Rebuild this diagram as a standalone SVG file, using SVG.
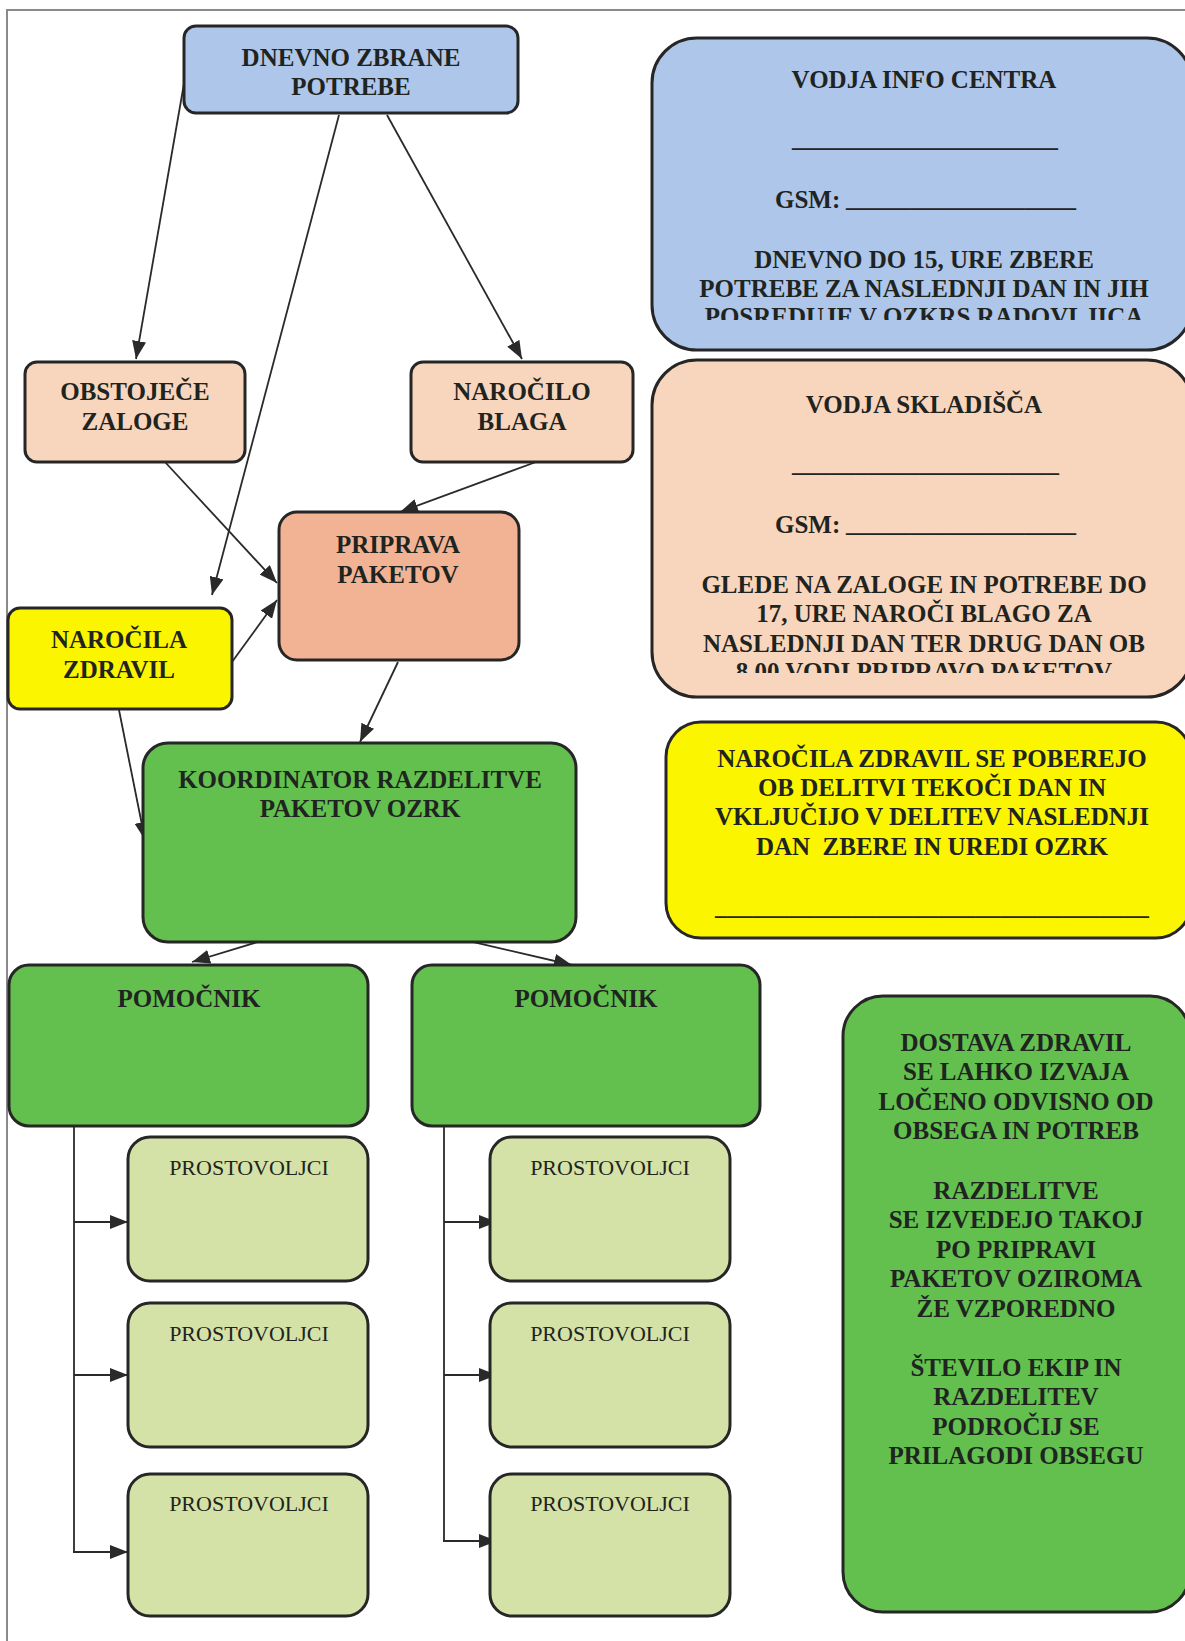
<svg xmlns="http://www.w3.org/2000/svg" width="1185" height="1641" viewBox="0 0 1185 1641">
<style>
text{font-family:"Liberation Serif","Times New Roman",serif;fill:#1f2420;}
.b{font-weight:bold;font-size:25px;text-anchor:middle;}
.r{font-size:22px;text-anchor:middle;}
.s{font-weight:bold;font-size:25px;}
.box{stroke:#262626;stroke-width:3;}
.blue{fill:#aec6ea;}
.peach{fill:#f8d6bd;}
.salmon{fill:#f2b395;}
.yellow{fill:#fbf600;}
.green{fill:#63c04f;}
.lgreen{fill:#d4e2a8;}
.c{stroke:#2a2a2a;stroke-width:1.8;fill:none;}
</style>
<defs>
<marker id="ah" markerUnits="userSpaceOnUse" markerWidth="18" markerHeight="14" refX="18" refY="7" orient="auto">
<path d="M0,0 L18,7 L0,14 z" fill="#2a2a2a"/>
</marker>
<clipPath id="clipInfo"><rect x="640" y="0" width="560" height="320"/></clipPath>
<clipPath id="clipSkl"><rect x="640" y="350" width="560" height="323"/></clipPath>
</defs>
<rect x="0" y="0" width="1185" height="1641" fill="#ffffff"/>
<g id="frame">
<line x1="6" y1="10" x2="1185" y2="10" stroke="#8a8a8a" stroke-width="2"/>
<line x1="7" y1="10" x2="7" y2="1641" stroke="#8a8a8a" stroke-width="2"/>
</g>
<g id="connectors">
<line class="c" x1="186" y1="72" x2="136" y2="359" marker-end="url(#ah)"/>
<line class="c" x1="339" y1="115" x2="212" y2="595" marker-end="url(#ah)"/>
<line class="c" x1="387" y1="115" x2="522" y2="359" marker-end="url(#ah)"/>
<line class="c" x1="165" y1="462" x2="277" y2="583" marker-end="url(#ah)"/>
<line class="c" x1="536" y1="462" x2="400" y2="512" marker-end="url(#ah)"/>
<line class="c" x1="232" y1="662" x2="277" y2="600" marker-end="url(#ah)"/>
<line class="c" x1="119" y1="710" x2="145" y2="840" marker-end="url(#ah)"/>
<line class="c" x1="398" y1="662" x2="360" y2="742" marker-end="url(#ah)"/>
<line class="c" x1="340" y1="917" x2="192" y2="962" marker-end="url(#ah)"/>
<line class="c" x1="413" y1="928" x2="572" y2="965" marker-end="url(#ah)"/>
<polyline class="c" points="74,1126 74,1552"/>
<line class="c" x1="74" y1="1222" x2="128" y2="1222" marker-end="url(#ah)"/>
<line class="c" x1="74" y1="1375" x2="128" y2="1375" marker-end="url(#ah)"/>
<line class="c" x1="73" y1="1552" x2="128" y2="1552" marker-end="url(#ah)"/>
<polyline class="c" points="444,1126 444,1541"/>
<line class="c" x1="444" y1="1222" x2="497" y2="1222" marker-end="url(#ah)"/>
<line class="c" x1="444" y1="1375" x2="497" y2="1375" marker-end="url(#ah)"/>
<line class="c" x1="443" y1="1541" x2="497" y2="1541" marker-end="url(#ah)"/>
</g>
<g id="dnevno">
<rect class="box blue" x="184" y="26" width="334" height="87" rx="12"/>
<text class="b" x="351" y="66">DNEVNO ZBRANE</text>
<text class="b" x="351" y="95">POTREBE</text>
</g>
<g id="obstojece">
<rect class="box peach" x="25" y="362" width="220" height="100" rx="12"/>
<text class="b" x="135" y="400">OBSTOJEČE</text>
<text class="b" x="135" y="430">ZALOGE</text>
</g>
<g id="narocilo-blaga">
<rect class="box peach" x="411" y="362" width="222" height="100" rx="12"/>
<text class="b" x="522" y="400">NAROČILO</text>
<text class="b" x="522" y="430">BLAGA</text>
</g>
<g id="priprava">
<rect class="box salmon" x="279" y="512" width="240" height="148" rx="18"/>
<text class="b" x="398" y="553">PRIPRAVA</text>
<text class="b" x="398" y="583">PAKETOV</text>
</g>
<g id="narocila-zdravil">
<rect class="box yellow" x="8" y="608" width="224" height="101" rx="12"/>
<text class="b" x="119" y="648">NAROČILA</text>
<text class="b" x="119" y="678">ZDRAVIL</text>
</g>
<g id="koordinator">
<rect class="box green" x="143" y="743" width="433" height="199" rx="25"/>
<text class="b" x="360" y="788">KOORDINATOR RAZDELITVE</text>
<text class="b" x="360" y="817">PAKETOV OZRK</text>
</g>
<g id="pomocnik1">
<rect class="box green" x="9" y="965" width="359" height="161" rx="20"/>
<text class="b" x="189" y="1007">POMOČNIK</text>
</g>
<g id="pomocnik2">
<rect class="box green" x="412" y="965" width="348" height="161" rx="20"/>
<text class="b" x="586" y="1007">POMOČNIK</text>
</g>
<g id="prostovoljci-l1">
<rect class="box lgreen" x="128" y="1137" width="240" height="144" rx="22" stroke-width="2"/>
<text class="r" x="249" y="1175">PROSTOVOLJCI</text>
</g>
<g id="prostovoljci-l2">
<rect class="box lgreen" x="128" y="1303" width="240" height="144" rx="22" stroke-width="2"/>
<text class="r" x="249" y="1341">PROSTOVOLJCI</text>
</g>
<g id="prostovoljci-l3">
<rect class="box lgreen" x="128" y="1474" width="240" height="142" rx="22" stroke-width="2"/>
<text class="r" x="249" y="1511">PROSTOVOLJCI</text>
</g>
<g id="prostovoljci-r1">
<rect class="box lgreen" x="490" y="1137" width="240" height="144" rx="22" stroke-width="2"/>
<text class="r" x="610" y="1175">PROSTOVOLJCI</text>
</g>
<g id="prostovoljci-r2">
<rect class="box lgreen" x="490" y="1303" width="240" height="144" rx="22" stroke-width="2"/>
<text class="r" x="610" y="1341">PROSTOVOLJCI</text>
</g>
<g id="prostovoljci-r3">
<rect class="box lgreen" x="490" y="1474" width="240" height="142" rx="22" stroke-width="2"/>
<text class="r" x="610" y="1511">PROSTOVOLJCI</text>
</g>
<g id="vodja-info">
<rect class="box blue" x="652" y="38" width="540" height="312" rx="45"/>
<text class="b" x="924" y="88">VODJA INFO CENTRA</text>
<text class="s" x="792" y="146" textLength="266" lengthAdjust="spacingAndGlyphs">_____________________</text>
<text class="s" x="775" y="208">GSM:</text>
<text class="s" x="846" y="206" textLength="230" lengthAdjust="spacingAndGlyphs">__________________</text>
<g clip-path="url(#clipInfo)">
<text class="b" x="924" y="268">DNEVNO DO 15, URE ZBERE</text>
<text class="b" x="924" y="297">POTREBE ZA NASLEDNJI DAN IN JIH</text>
<text class="b" x="924" y="325">POSREDUJE V OZKRS RADOVLJICA</text>
</g>
</g>
<g id="vodja-skladisca">
<rect class="box peach" x="652" y="360" width="540" height="337" rx="45"/>
<text class="b" x="924" y="413">VODJA SKLADIŠČA</text>
<text class="s" x="792" y="471" textLength="267" lengthAdjust="spacingAndGlyphs">_____________________</text>
<text class="s" x="775" y="533">GSM:</text>
<text class="s" x="846" y="531" textLength="230" lengthAdjust="spacingAndGlyphs">__________________</text>
<g clip-path="url(#clipSkl)">
<text class="b" x="924" y="593">GLEDE NA ZALOGE IN POTREBE DO</text>
<text class="b" x="924" y="622">17, URE NAROČI BLAGO ZA</text>
<text class="b" x="924" y="652">NASLEDNJI DAN TER DRUG DAN OB</text>
<text class="b" x="924" y="680">8.00 VODI PRIPRAVO PAKETOV</text>
</g>
</g>
<g id="narocila-opomba">
<rect class="box yellow" x="666" y="722" width="525" height="216" rx="35"/>
<text class="b" x="932" y="767">NAROČILA ZDRAVIL SE POBEREJO</text>
<text class="b" x="932" y="796">OB DELITVI TEKOČI DAN IN</text>
<text class="b" x="932" y="825">VKLJUČIJO V DELITEV NASLEDNJI</text>
<text class="b" x="932" y="855" xml:space="preserve">DAN  ZBERE IN UREDI OZRK</text>
<text class="s" x="715" y="914" textLength="434" lengthAdjust="spacingAndGlyphs">___________________________________</text>
</g>
<g id="dostava-opomba">
<rect class="box green" x="843" y="996" width="347" height="616" rx="40"/>
<text class="b" x="1016" y="1051">DOSTAVA ZDRAVIL</text>
<text class="b" x="1016" y="1080">SE LAHKO IZVAJA</text>
<text class="b" x="1016" y="1110">LOČENO ODVISNO OD</text>
<text class="b" x="1016" y="1139">OBSEGA IN POTREB</text>
<text class="b" x="1016" y="1199">RAZDELITVE</text>
<text class="b" x="1016" y="1228">SE IZVEDEJO TAKOJ</text>
<text class="b" x="1016" y="1258">PO PRIPRAVI</text>
<text class="b" x="1016" y="1287">PAKETOV OZIROMA</text>
<text class="b" x="1016" y="1317">ŽE VZPOREDNO</text>
<text class="b" x="1016" y="1376">ŠTEVILO EKIP IN</text>
<text class="b" x="1016" y="1405">RAZDELITEV</text>
<text class="b" x="1016" y="1435">PODROČIJ SE</text>
<text class="b" x="1016" y="1464">PRILAGODI OBSEGU</text>
</g>
</svg>
